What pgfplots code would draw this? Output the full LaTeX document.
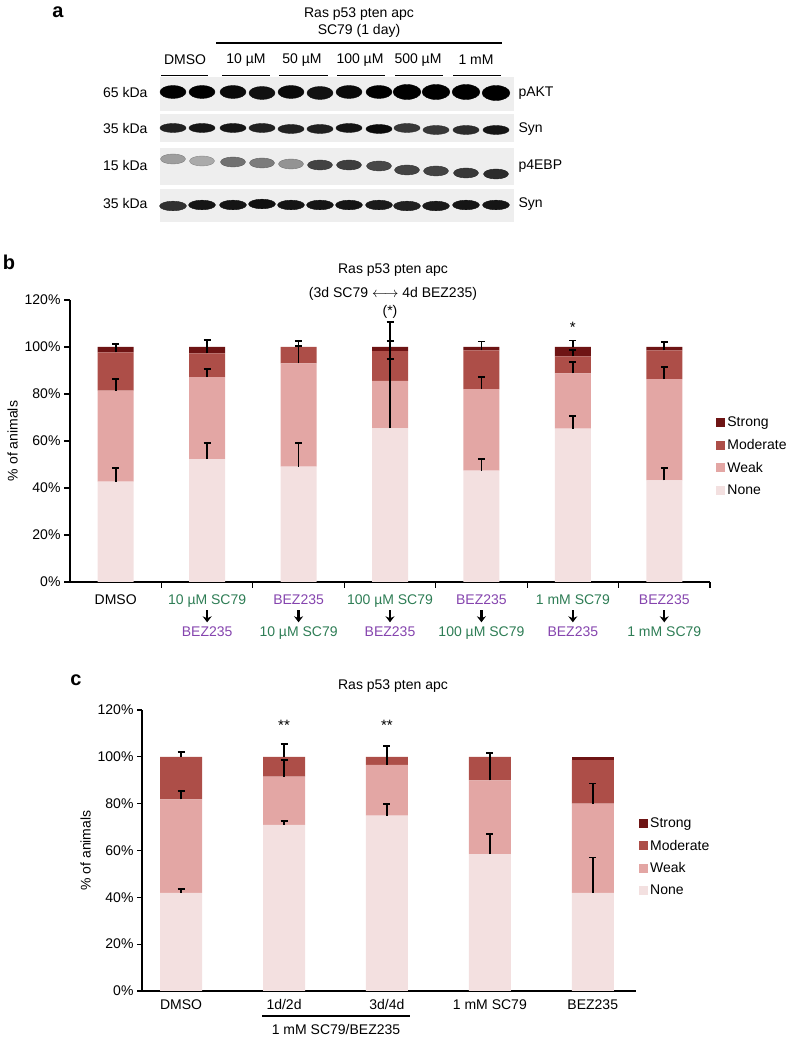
\documentclass[border=0pt]{standalone}
\usepackage{pgfplots}
\pgfplotsset{compat=1.18}
\usepackage{pgfplotstable}
\usetikzlibrary{arrows.meta}
\usepackage{fontspec}
\setmainfont{Liberation Sans}
\definecolor{cNone}{HTML}{F3E0E0}
\definecolor{cWeak}{HTML}{E3A6A4}
\definecolor{cMod}{HTML}{AD4E48}
\definecolor{cStr}{HTML}{6E1414}
\definecolor{sgreen}{HTML}{2E7D55}
\definecolor{spurple}{HTML}{8544AE}
\newcommand{\fs}{\fontsize{14}{16}\selectfont}
\newcommand{\arr}{\tikz[baseline={(0,-9pt)}]\draw[black, line width=2.2pt,-{Stealth[length=6pt,width=9pt]}] (0,0)--(0,-12pt);}
\newcommand{\G}[1]{\textcolor{sgreen}{#1}}
\newcommand{\Pu}[1]{\textcolor{spurple}{#1}}

\pgfplotstableread{
x None Weak Mod Str
0 42.7 38.7 16.3 2.3
1 52.3 34.9 10.1 2.7
2 49.1 43.9 7.0 0
3 65.4 20.2 12.6 1.8
4 47.4 34.7 16.5 1.4
5 65.3 23.5 7.2 4.0
6 43.2 43.1 12.3 1.4
}\tabB
\pgfplotstableread{
x y e
0 42.7 5.7
0 81.4 5.1
0 97.7 3.6
1 52.3 6.7
1 87.2 3.3
1 97.3 5.6
2 49.1 9.9
2 93.0 7.5
2 100 2.7
3 65.4 45.4
3 85.6 9.3
3 98.2 4.2
4 47.4 4.8
4 82.1 5.1
4 98.6 3.7
5 65.3 5.4
5 88.8 4.7
5 96.0 2.6
5 100 2.8
6 43.2 5.2
6 86.3 5.3
6 98.6 3.4
}\errB
\pgfplotstableread{
x None Weak Mod Str
0 41.9 39.9 18.2 0
1 70.9 20.6 8.5 0
2 74.9 21.7 3.4 0
3 58.4 31.5 10.1 0
4 41.9 38.1 18.6 1.4
}\tabC
\pgfplotstableread{
x y e
0 41.9 1.7
0 81.8 3.6
0 100 2.1
1 70.9 1.7
1 91.5 7.2
1 100 5.5
2 74.9 4.8
2 96.6 8.1
3 58.4 8.6
3 89.9 11.7
4 41.9 15.1
4 80.0 8.6
}\errC

\pgfplotsset{
  stk/.style={scale only axis, anchor=south west, ybar stacked, clip=false,
    axis lines*=left, ymin=0, ymax=120, ytick={0,20,...,120},
    yticklabel={\pgfmathprintnumber{\tick}\%},
    /pgf/number format/assume math mode=true,
    tick align=outside, major tick length=5pt,
    ytick style={black, line width=1.2pt},
    axis line style={line width=1.5pt, black},
    tick label style={font=\fs},
    ylabel={\% of animals}, ylabel style={font=\fs},
    legend style={draw=none, fill=none, font=\fs, row sep=7pt, anchor=west},
    legend cell align=left, reverse legend,
    legend image code/.code={\fill[#1] (0pt,-4.5pt) rectangle (9pt,4.5pt);},
  },
  errax/.style={scale only axis, anchor=south west, hide axis, clip=false, ymin=0, ymax=120},
  errp/.style={draw=none, mark=none, error bars/.cd, y dir=plus, y explicit,
    error bar style={draw=black, line width=1.6pt},
    error mark=-,
    error mark options={draw=black, rotate=90, line width=1.8pt, mark size=3.5pt}},
}

\begin{document}
\begin{tikzpicture}
\path[use as bounding box] (0,0) rectangle (788pt,1039pt);

% ---------------- panel a (blot) ----------------
\begin{axis}[scale only axis, anchor=south west, at={(160pt,817pt)}, width=354pt, height=145pt,
  xmin=160, xmax=514, ymin=-222, ymax=-77, hide axis, clip=false,
  colormap={blot}{color=(gray!22) color=(black)}, point meta min=0, point meta max=1]
\fill[gray!13] (axis cs:160,-77) rectangle (axis cs:514,-111);
\fill[gray!13] (axis cs:160,-114) rectangle (axis cs:514,-142);
\fill[gray!13] (axis cs:160,-148) rectangle (axis cs:514,-185);
\fill[gray!13] (axis cs:160,-189) rectangle (axis cs:514,-222);
% pAKT
\addplot[scatter, only marks, mark=*, point meta=explicit, mark size=6.5pt, mark options={xscale=2.0}] table[meta=c] {
x y c
173 -92 1
202 -92 1
233 -92 0.95
262 -93 0.92
291 -92 0.95
320 -93 0.92
349 -92 0.95
379 -92 1
};
\addplot[scatter, only marks, mark=*, point meta=explicit, mark size=7.5pt, mark options={xscale=1.85}] table[meta=c] {
x y c
407 -92 1
436 -92 1
466 -92 1
496 -93 1
};
% Syn 1
\addplot[scatter, only marks, mark=*, point meta=explicit, mark size=4.5pt, mark options={xscale=2.9}] table[meta=c] {
x y c
173 -128 0.85
202 -128 0.9
233 -128 0.9
262 -128 0.85
291 -129 0.85
320 -129 0.85
349 -128 0.9
379 -129 0.95
407 -128 0.75
436 -130 0.75
466 -130 0.8
496 -130 0.9
};
% p4EBP
\addplot[scatter, only marks, mark=*, point meta=explicit, mark size=5pt, mark options={xscale=2.5}] table[meta=c] {
x y c
173 -159 0.3
202 -161 0.25
233 -162 0.5
262 -163 0.45
291 -164 0.35
320 -165 0.7
349 -165 0.72
379 -166 0.68
407 -170 0.7
436 -171 0.7
466 -173 0.75
496 -174 0.8
};
% Syn 2
\addplot[scatter, only marks, mark=*, point meta=explicit, mark size=4.8pt, mark options={xscale=2.8}] table[meta=c] {
x y c
173 -206 0.78
202 -205 0.9
233 -205 0.9
262 -204 0.92
291 -205 0.9
320 -205 0.9
349 -205 0.9
379 -205 0.88
407 -206 0.85
436 -206 0.88
466 -205 0.9
496 -205 0.9
};
\end{axis}

% ---------------- panel b ----------------
\begin{axis}[stk, at={(70pt,457pt)}, width=640pt, height=282pt,
  xmin=-0.5, xmax=6.5, bar width=36pt,
  xtick={0.5,1.5,...,6.5}, xticklabels={},
  xtick style={black, line width=1.2pt}, major tick length=6pt,
  extra x ticks={0,...,6},
  extra x tick style={major tick length=0pt, xtick style={draw=none},
     xticklabel style={align=center, font=\fs, yshift=-9pt}},
  extra x tick labels={DMSO,
    {\G{10 µM SC79}\\[-1pt]\arr\\[1pt]\Pu{BEZ235}},
    {\Pu{BEZ235}\\[-1pt]\arr\\[1pt]\G{10 µM SC79}},
    {\G{100 µM SC79}\\[-1pt]\arr\\[1pt]\Pu{BEZ235}},
    {\Pu{BEZ235}\\[-1pt]\arr\\[1pt]\G{100 µM SC79}},
    {\G{1 mM SC79}\\[-1pt]\arr\\[1pt]\Pu{BEZ235}},
    {\Pu{BEZ235}\\[-1pt]\arr\\[1pt]\G{1 mM SC79}}},
  legend style={at={(1.005,0.445)}}]
\addplot[fill=cNone, draw=none] table[x=x, y=None] {\tabB};
\addplot[fill=cWeak, draw=none] table[x=x, y=Weak] {\tabB};
\addplot[fill=cMod, draw=none] table[x=x, y=Mod] {\tabB};
\addplot[fill=cStr, draw=none] table[x=x, y=Str] {\tabB};
\legend{None, Weak, Moderate, Strong}
\end{axis}
\begin{axis}[errax, at={(70pt,457pt)}, width=640pt, height=282pt, xmin=-0.5, xmax=6.5]
\addplot[errp] table[x=x, y=y, y error=e] {\errB};
\node[font=\fontsize{15}{15}\selectfont] at (axis cs:5,108.5) {*};
\node[font=\fs] at (axis cs:3,115) {(*)};
\end{axis}

% ---------------- panel c ----------------
\begin{axis}[stk, at={(142pt,48pt)}, width=494pt, height=281pt,
  xmin=-0.38, xmax=4.42, bar width=42pt,
  xtick={0,...,4}, xtick style={draw=none},
  xticklabels={DMSO, 1d/2d, 3d/4d, 1 mM SC79, BEZ235},
  legend style={at={(1.0,0.477)}}]
\addplot[fill=cNone, draw=none] table[x=x, y=None] {\tabC};
\addplot[fill=cWeak, draw=none] table[x=x, y=Weak] {\tabC};
\addplot[fill=cMod, draw=none] table[x=x, y=Mod] {\tabC};
\addplot[fill=cStr, draw=none] table[x=x, y=Str] {\tabC};
\legend{None, Weak, Moderate, Strong}
\end{axis}
\begin{axis}[errax, at={(142pt,48pt)}, width=494pt, height=281pt, xmin=-0.38, xmax=4.42]
\addplot[errp] table[x=x, y=y, y error=e] {\errC};
\node[font=\fontsize{15}{15}\selectfont] at (axis cs:1,113.5) {**};
\node[font=\fontsize{15}{15}\selectfont] at (axis cs:2,113.5) {**};
\end{axis}

% ---------------- texts (image coordinates) ----------------
\begin{scope}[x=1pt, y=-1pt, yshift=1039pt]
\node[font=\fontsize{20}{20}\selectfont\bfseries] at (58,12) {a};
\node[font=\fontsize{20}{20}\selectfont\bfseries] at (9,262) {b};
\node[font=\fontsize{20}{20}\selectfont\bfseries] at (76,680) {c};
% panel a header
\node[font=\fs] at (359,14) {Ras p53 pten apc};
\node[font=\fs] at (359,31) {SC79 (1 day)};
\draw[line width=2pt] (216,43) -- (502,43);
\foreach \lx/\lt in {185/DMSO, 246/10 µM, 302/50 µM, 360/100 µM, 418/500 µM, 476/1 mM}
  \node[font=\fs] at (\lx,60) {\lt};
\foreach \a/\b in {161/208, 222/270, 279/328, 337/385, 395/443, 453/501}
  \draw[line width=1.8pt] (\a,75.5) -- (\b,75.5);
\foreach \yy/\kd/\nm in {93/65 kDa/pAKT, 129/35 kDa/Syn, 166/15 kDa/p4EBP, 204/35 kDa/Syn}{
  \node[font=\fs, anchor=east] at (151,\yy) {\kd};
  \node[font=\fs, anchor=west] at (515,\yy) {\nm};
}
% panel b titles
\node[font=\fs] at (393,270) {Ras p53 pten apc};
\node[font=\fs] at (393,294) {(3d SC79 $\longleftrightarrow$ 4d BEZ235)};
% panel c title and bracket
\node[font=\fs] at (393,686) {Ras p53 pten apc};
\draw[line width=2pt] (262,1016) -- (410,1016);
\node[font=\fs] at (336,1029) {1 mM SC79/BEZ235};
\end{scope}
\end{tikzpicture}
\end{document}
